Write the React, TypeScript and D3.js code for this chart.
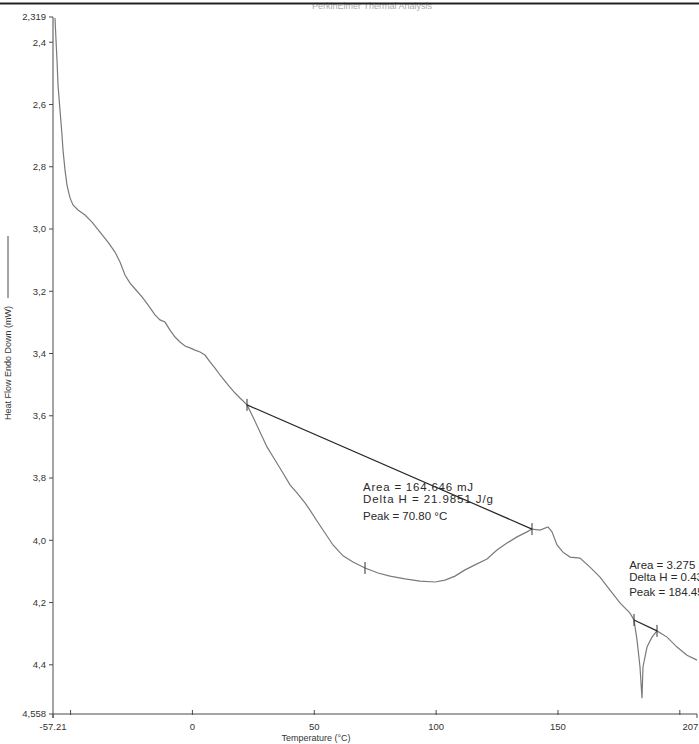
import React from "react";
import * as d3 from "d3";

const temperature = [
  -56.39, -55.98, -55.57, -55.16, -54.34, -53.52, -53.11, -52.29, -51.47, -50.23,
  -49.0, -46.95, -44.08, -41.21, -37.92, -34.64, -31.77, -29.72, -27.67, -25.61,
  -23.15, -20.69, -18.23, -15.36, -13.3, -11.25, -9.2, -7.15, -5.1, -3.04,
  -0.99, 1.06, 3.11, 5.16, 7.21, 9.27, 11.32, 14.6, 17.47, 19.93, 22.4,
  24.86, 27.73, 30.6, 33.89, 37.17, 40.04, 42.91, 46.2, 48.25, 51.12,
  53.58, 57.69, 61.79, 65.89, 70.82, 76.15, 81.07, 87.23, 93.38, 99.54,
  103.64, 107.75, 111.85, 115.95, 120.88, 124.98, 129.08, 133.19, 137.29, 139.34,
  142.63, 145.91, 147.55, 149.6, 152.06, 154.94, 159.04, 163.14, 167.25, 171.35,
  175.45, 179.56, 181.2, 182.43, 183.66, 184.48, 184.89, 186.53, 188.58, 190.64,
  194.74, 198.84, 202.95, 207.05,
];

const heatFlow = [
  2.322, 2.393, 2.457, 2.537, 2.618, 2.698, 2.746, 2.81, 2.859, 2.9,
  2.923, 2.939, 2.955, 2.978, 3.01, 3.042, 3.074, 3.106, 3.148, 3.174,
  3.196, 3.218, 3.244, 3.276, 3.292, 3.299, 3.325, 3.347, 3.363, 3.376,
  3.382, 3.389, 3.395, 3.405, 3.427, 3.447, 3.469, 3.501, 3.527, 3.546, 3.565,
  3.604, 3.652, 3.7, 3.742, 3.784, 3.822, 3.848, 3.88, 3.903, 3.938,
  3.967, 4.015, 4.05, 4.07, 4.089, 4.105, 4.115, 4.124, 4.131, 4.134,
  4.128, 4.115, 4.095, 4.079, 4.06, 4.031, 4.009, 3.989, 3.973, 3.964,
  3.967, 3.957, 3.973, 4.015, 4.038, 4.054, 4.057, 4.086, 4.118, 4.16,
  4.201, 4.234, 4.256, 4.32, 4.407, 4.507, 4.407, 4.343, 4.311, 4.291,
  4.311, 4.343, 4.369, 4.385,
];

const baseline1Temps = [22.4, 139.34];
const baseline1Values = [3.565, 3.964];
const baseline2Temps = [181.2, 190.64];
const baseline2Values = [4.256, 4.291];

const markerTemps = [22.4, 70.82, 139.34, 181.2, 190.64];
const markerValues = [3.565, 4.089, 3.964, 4.256, 4.291];

const xDomain = [-57.21, 207.05];
const yDomain = [2.319, 4.558];

const xTicks = [-50, 0, 50, 100, 150, 200];
const xTickLabels = ["", "0", "50", "100", "150", ""];
const xEndLabels = ["-57.21", "207.05"];

const yTicks = [2.4, 2.6, 2.8, 3.0, 3.2, 3.4, 3.6, 3.8, 4.0, 4.2, 4.4];
const yTickLabels = ["2,4", "2,6", "2,8", "3,0", "3,2", "3,4", "3,6", "3,8", "4,0", "4,2", "4,4"];
const yEndLabels = ["2,319", "4,558"];

const annotation1 = ["Area = 164.646 mJ", "Delta H = 21.9851 J/g", "Peak = 70.80 °C"];
const annotation2 = ["Area = 3.275 mJ", "Delta H = 0.4373 J/g", "Peak = 184.45 °C"];

const title = "PerkinElmer Thermal Analysis";
const xTitle = "Temperature (°C)";
const yTitle = "Heat Flow Endo Down (mW)";

export default function App() {
  const W = 699;
  const H = 744;
  const x = d3.scaleLinear().domain(xDomain).range([53, 697]);
  const y = d3.scaleLinear().domain(yDomain).range([17, 714]);

  const pts = temperature.map((t, i) => [t, heatFlow[i]] as [number, number]);
  const line = d3
    .line<[number, number]>()
    .x((d) => x(d[0]))
    .y((d) => y(d[1]));

  const b1 = baseline1Temps.map((t, i) => [t, baseline1Values[i]] as [number, number]);
  const b2 = baseline2Temps.map((t, i) => [t, baseline2Values[i]] as [number, number]);

  const font = "'Liberation Sans', Arial, sans-serif";
  const axisColor = "#4a4a4a";
  const textColor = "#333";

  const x0 = x(xDomain[0]);
  const x1 = x(xDomain[1]);
  const yTop = y(yDomain[0]);
  const yBot = y(yDomain[1]);

  return (
    <svg
      width={W}
      height={H}
      style={{ position: "absolute", left: 0, top: 0, background: "#fff" }}
      fontFamily={font}
    >
      <rect x={0} y={0} width={W} height={H} fill="#fff" />
      {/* header */}
      <text x={372} y={9} fontSize={9} fill="#aaa" textAnchor="middle">
        {title}
      </text>
      <line x1={0} x2={W} y1={3.5} y2={3.5} stroke="#222" strokeWidth={2.2} />

      {/* axes */}
      <line x1={x0} x2={x0} y1={yTop} y2={yBot + 4} stroke={axisColor} strokeWidth={1} />
      <line x1={x0} x2={x1} y1={yBot} y2={yBot} stroke={axisColor} strokeWidth={1} />

      {/* y ticks */}
      {yTicks.map((v, i) => (
        <g key={"yt" + i}>
          <line x1={x0 - 4} x2={x0} y1={y(v)} y2={y(v)} stroke={axisColor} />
          <text x={x0 - 7} y={y(v)} dy="0.35em" fontSize={9.5} fill={textColor} textAnchor="end">
            {yTickLabels[i]}
          </text>
        </g>
      ))}
      {yDomain.map((v, i) => (
        <g key={"ye" + i}>
          <line x1={x0 - 4} x2={x0} y1={y(v)} y2={y(v)} stroke={axisColor} />
          <text x={x0 - 7} y={y(v)} dy="0.35em" fontSize={9.5} fill={textColor} textAnchor="end">
            {yEndLabels[i]}
          </text>
        </g>
      ))}

      {/* x ticks */}
      {xTicks.map((v, i) => (
        <g key={"xt" + i}>
          <line x1={x(v)} x2={x(v)} y1={yBot - 4} y2={yBot + 1} stroke={axisColor} />
          <text x={x(v)} y={yBot + 16} fontSize={9.5} fill={textColor} textAnchor="middle">
            {xTickLabels[i]}
          </text>
        </g>
      ))}
      {xDomain.map((v, i) => (
        <g key={"xe" + i}>
          <line x1={x(v)} x2={x(v)} y1={yBot} y2={yBot + 4} stroke={axisColor} />
          <text x={x(v)} y={yBot + 16} fontSize={9.5} fill={textColor} textAnchor="middle">
            {xEndLabels[i]}
          </text>
        </g>
      ))}

      {/* axis titles */}
      <text x={316} y={741} fontSize={9} fill={textColor} textAnchor="middle">
        {xTitle}
      </text>
      <g transform={`translate(11, 420) rotate(-90)`}>
        <text x={0} y={0} fontSize={9} fill={textColor}>
          {yTitle}
        </text>
        <line x1={122} x2={184} y1={-3} y2={-3} stroke={textColor} strokeWidth={0.9} />
      </g>

      {/* curve */}
      <path d={line(pts) || ""} fill="none" stroke="#7a7a7a" strokeWidth={1.2} />

      {/* baselines */}
      <path d={line(b1) || ""} fill="none" stroke="#262626" strokeWidth={1.2} />
      <path d={line(b2) || ""} fill="none" stroke="#262626" strokeWidth={1.2} />

      {/* markers */}
      {markerTemps.map((t, i) => (
        <line
          key={"m" + i}
          x1={x(t)}
          x2={x(t)}
          y1={y(markerValues[i]) - 6}
          y2={y(markerValues[i]) + 6}
          stroke="#333"
          strokeWidth={1}
        />
      ))}

      {/* annotations */}
      <g fontSize={11.5} fill="#2a2a2a">
        <text x={x(70.0)} y={491} textLength={110}>{annotation1[0]}</text>
        <text x={x(70.0)} y={503} textLength={130}>{annotation1[1]}</text>
        <text x={x(70.0)} y={520}>{annotation1[2]}</text>
        <text x={x(179.2)} y={569}>{annotation2[0]}</text>
        <text x={x(179.2)} y={581}>{annotation2[1]}</text>
        <text x={x(179.2)} y={596}>{annotation2[2]}</text>
      </g>
    </svg>
  );
}
